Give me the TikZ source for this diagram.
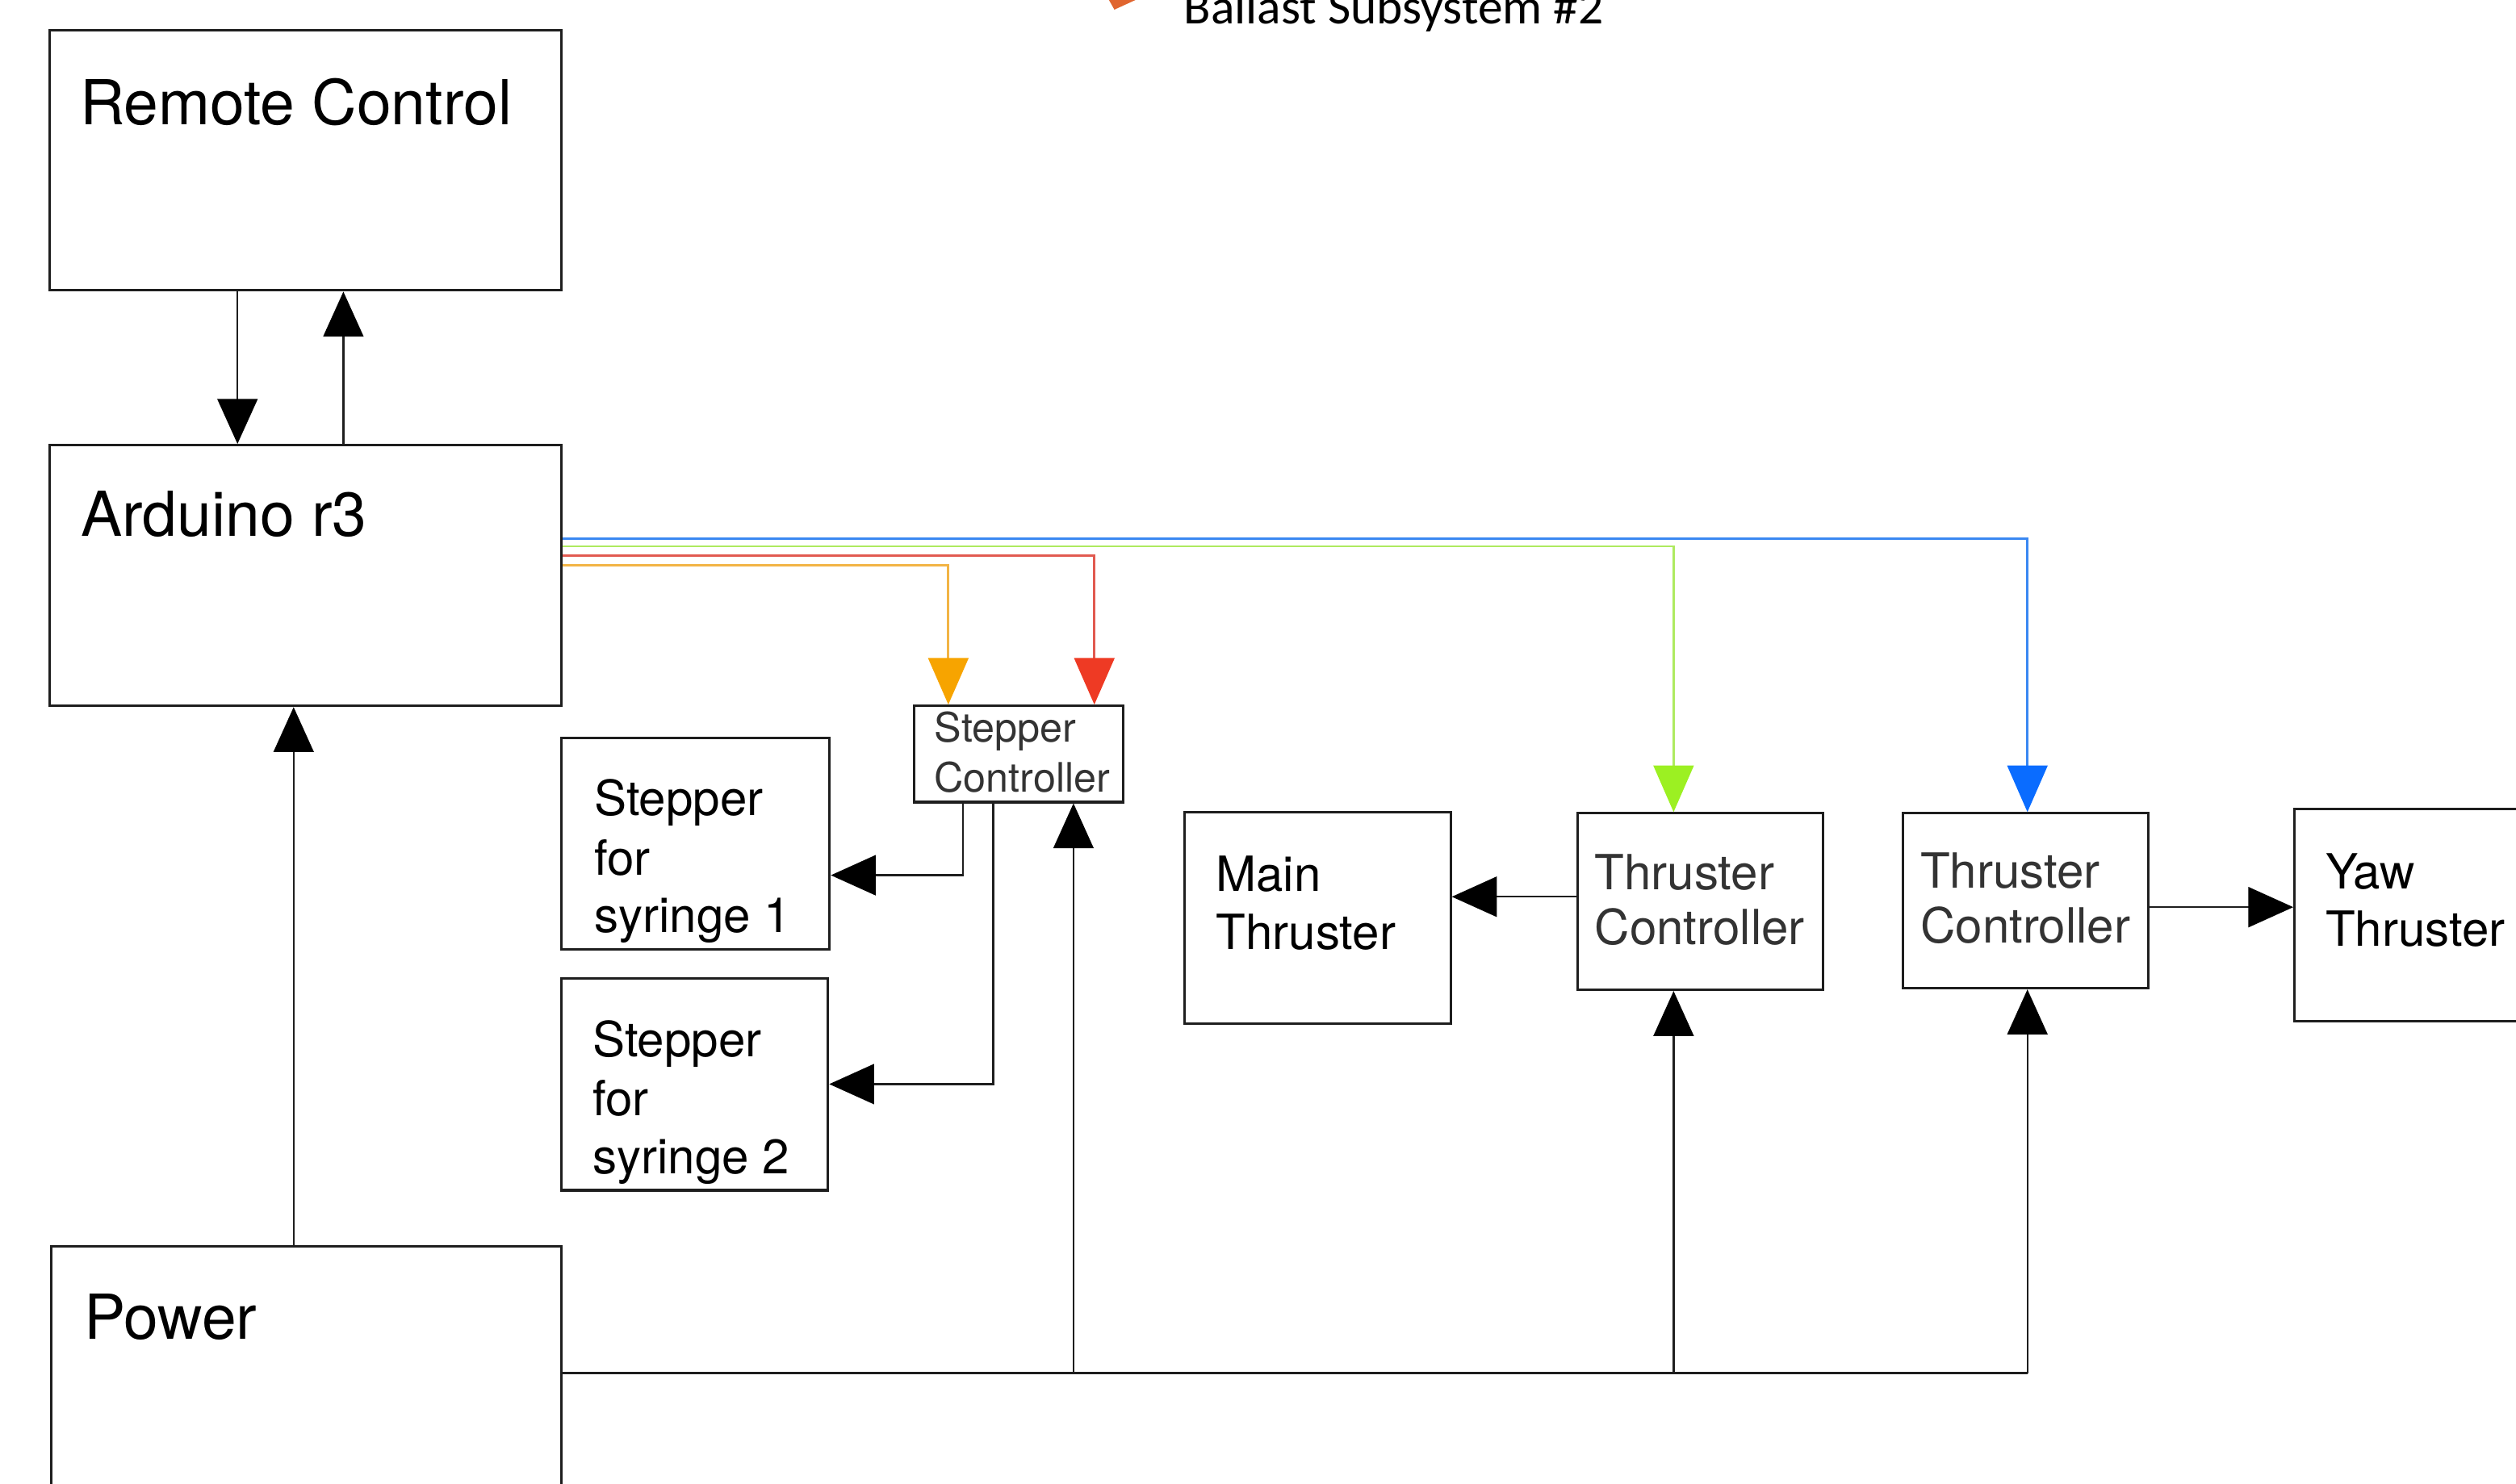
\documentclass[tikz,border=0pt]{standalone}
\usepackage{fontspec}
\setmainfont{TeX Gyre Heros}
\newfontfamily\calibrifont{Carlito}
\usetikzlibrary{arrows.meta,fit}
\definecolor{lineblk}{HTML}{1E1E1E}
\definecolor{textgrey}{HTML}{333333}
\definecolor{orhead}{HTML}{F7A400}
\definecolor{orline}{HTML}{F2B445}
\definecolor{rdhead}{HTML}{EE3A24}
\definecolor{rdline}{HTML}{E15A50}
\definecolor{grhead}{HTML}{9CF022}
\definecolor{grline}{HTML}{AEEA60}
\definecolor{buhead}{HTML}{0A6CFF}
\definecolor{buline}{HTML}{3A88F2}
\definecolor{fragor}{HTML}{E0652F}
\begin{document}
\begin{tikzpicture}[x=0.02cm,y=-0.02cm,
  box/.style={draw=lineblk,line width=0.9pt,inner sep=0pt,fill=none},
  bigtxt/.style={anchor=base west,inner sep=0pt,font=\fontsize{22}{26}\selectfont},
  midtxt/.style={anchor=base west,inner sep=0pt,font=\fontsize{17.2}{20}\selectfont},
  greytxt/.style={midtxt,text=textgrey},
  smalltxt/.style={anchor=base west,inner sep=0pt,font=\fontsize{14.4}{17}\selectfont,text=textgrey},
  conn/.style={draw=lineblk,line width=0.7pt,-{Triangle[width=0.5cm,length=0.56cm,color=black]}},
  plainconn/.style={draw=lineblk,line width=0.7pt},
  oconn/.style={draw=orline,line width=0.8pt,-{Triangle[width=0.5cm,length=0.58cm,color=orhead]}},
  rconn/.style={draw=rdline,line width=0.8pt,-{Triangle[width=0.5cm,length=0.58cm,color=rdhead]}},
  gconn/.style={draw=grline,line width=0.8pt,-{Triangle[width=0.5cm,length=0.58cm,color=grhead]}},
  bconn/.style={draw=buline,line width=0.8pt,-{Triangle[width=0.5cm,length=0.58cm,color=buhead]}}
]
\useasboundingbox (0,0) rectangle (1568,924.6);
\clip (0,0) rectangle (1568,924.6);

% boxes
\node[box,fit={(31,19) (350,181)}] (rc) {};
\node[box,fit={(31,277.5) (350,440)}] (ard) {};
\node[box,fit={(32,777) (350,940)}] (pw) {};
\node[box,fit={(569.5,440) (700,500)}] (ssc) {};
\node[box,fit={(350,460) (517,592)}] (s1) {};
\node[box,fit={(350,610) (516,742)}] (s2) {};
\node[box,fit={(738,506.5) (904,638)}] (mt) {};
\node[box,fit={(983,507) (1136,617)}] (tc1) {};
\node[box,fit={(1186,507) (1339,616)}] (tc2) {};
\node[box,fit={(1430,504.5) (1600,636.5)}] (yaw) {};

% texts
\node[bigtxt] (rct) at (49.5,77.5) {Remote Control};
\node[bigtxt] (ardt) at (50,334.5) {Arduino r3};
\node[bigtxt] (pwt) at (52,835) {Power};
\node[smalltxt] (ssca) at (582,462.5) {Stepper};
\node[smalltxt] (sscb) at (582,493.5) {Controller};
\node[midtxt] (s1a) at (370,508.5) {Stepper};
\node[midtxt] (s1b) at (370,545.5) {for};
\node[midtxt] (s1c) at (370,581.5) {syringe 1};
\node[midtxt] (s2a) at (369,658.5) {Stepper};
\node[midtxt] (s2b) at (369,695.5) {for};
\node[midtxt] (s2c) at (369,731.5) {syringe 2};
\node[midtxt] (mta) at (757.5,555.5) {Main};
\node[midtxt] (mtb) at (757.5,592) {Thruster};
\node[greytxt] (tc1a) at (993.5,554.5) {Thruster};
\node[greytxt] (tc1b) at (993.5,589) {Controller};
\node[greytxt] (tc2a) at (1196.5,553.5) {Thruster};
\node[greytxt] (tc2b) at (1196.5,588) {Controller};
\node[midtxt] (yawa) at (1449,554) {Yaw};
\node[midtxt] (yawb) at (1449,590) {Thruster};
\node[anchor=base west,inner sep=0pt,font=\calibrifont\fontsize{17.6}{20}\selectfont] (ballast) at (737.5,15) {Ballast Subsystem \#2};
\fill[fragor] (690,-2) -- (694.5,6) -- (712,-2) -- cycle;

% remote / arduino / power
\draw[conn] (148,0 |- rc.south) -- (148,0 |- ard.north);
\draw[conn] (214,0 |- ard.north) -- (214,0 |- rc.south);
\draw[conn] (183,0 |- pw.north) -- (183,0 |- ard.south);

% coloured signal lines
\draw[bconn] (ard.east |- 0,335.8) -| (1263.5,0 |- tc2.north);
\draw[gconn] (ard.east |- 0,340.6) -| (1043,0 |- tc1.north);
\draw[rconn] (ard.east |- 0,346.2) -| (682,0 |- ssc.north);
\draw[oconn] (ard.east |- 0,352.3) -| (591,0 |- ssc.north);

% stepper controller outputs
\draw[conn] (600,0 |- ssc.south) |- (s1.east |- 0,545.6);
\draw[conn] (619,0 |- ssc.south) |- (s2.east |- 0,675.8);

% thruster controller outputs
\draw[conn] (tc1.west |- 0,559) -- (mt.east |- 0,559);
\draw[conn] (tc2.east |- 0,565.5) -- (yaw.west |- 0,565.5);

% power bus
\coordinate (jA) at (669,856);
\coordinate (jB) at (1043,856);
\coordinate (jC) at (1263.5,856);
\draw[plainconn] (pw.east |- jA) -- (jC);
\draw[conn] (jA) -- (jA |- ssc.south);
\draw[conn] (jB) -- (jB |- tc1.south);
\draw[conn] (jC) -- (jC |- tc2.south);
\end{tikzpicture}
\end{document}
